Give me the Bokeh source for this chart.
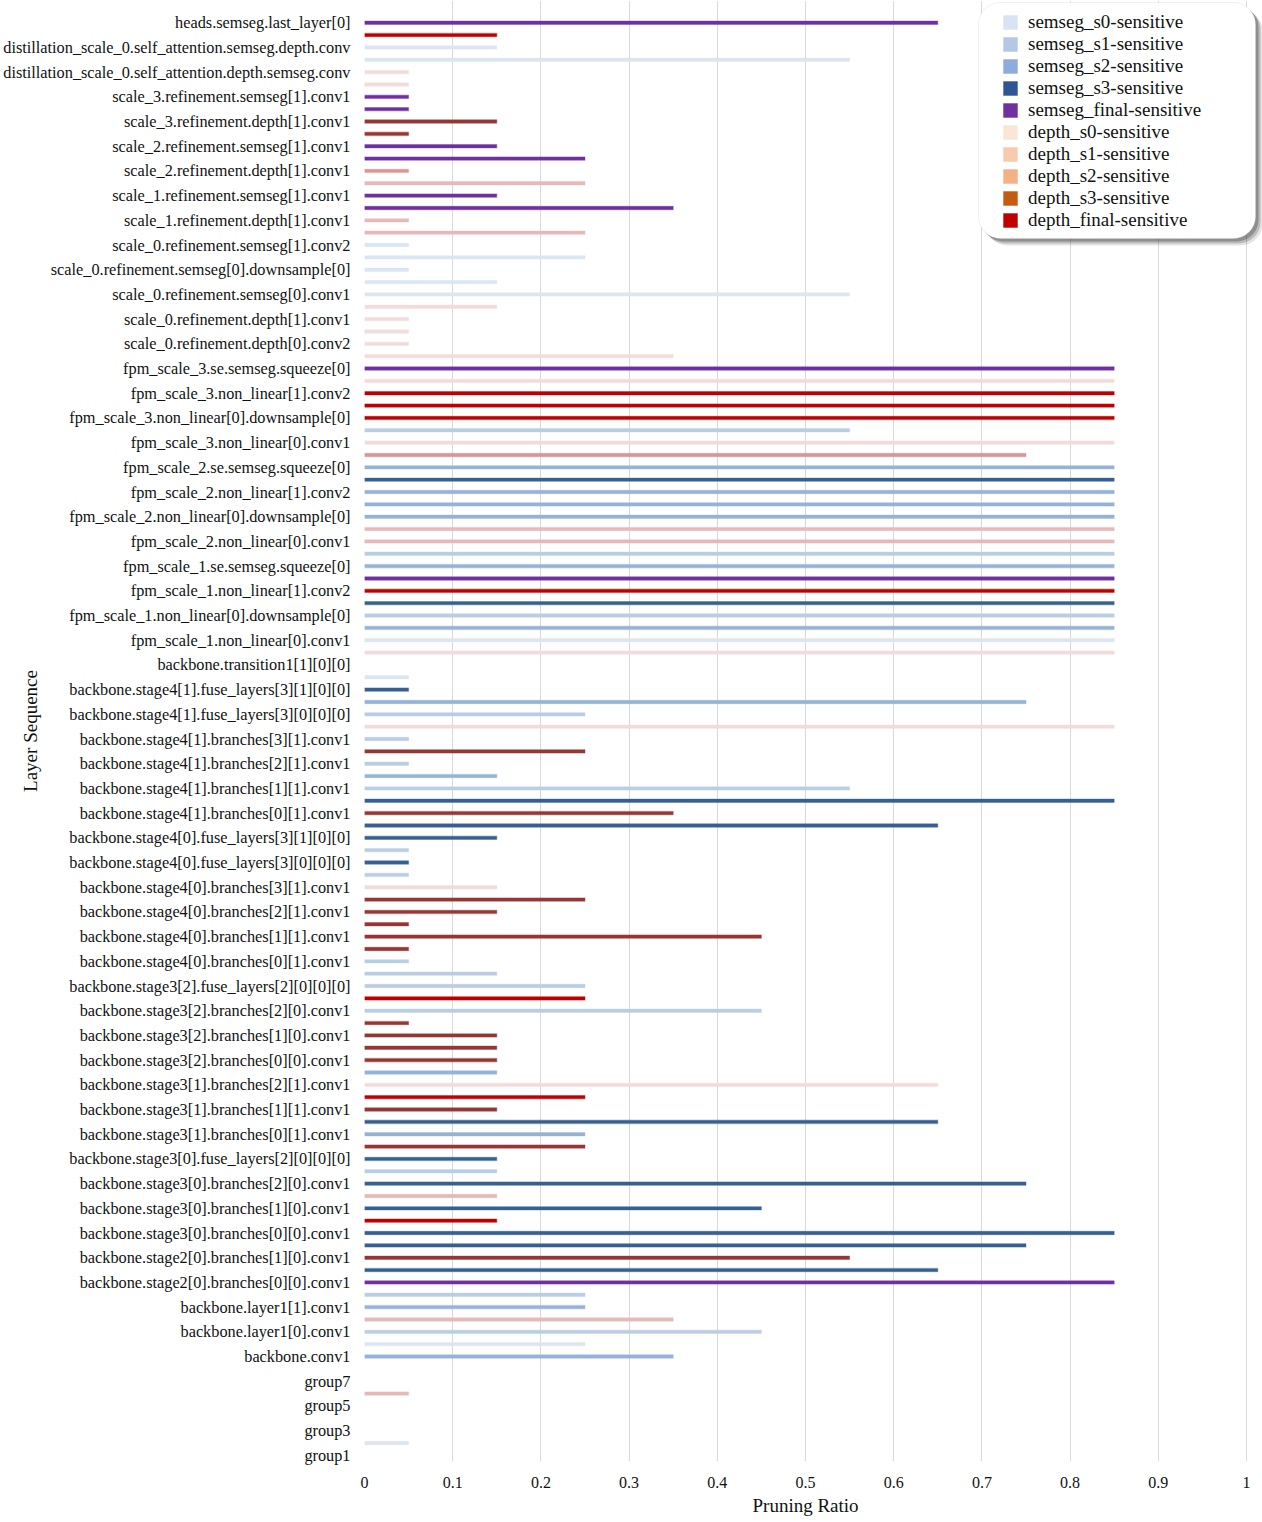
from bokeh.plotting import figure
from bokeh.models import (FixedTicker, CustomJSTickFormatter, Legend, LegendItem,
                          BoxAnnotation, ColumnDataSource, Range1d, Title)
from bokeh.embed import file_html
from bokeh.resources import INLINE

# ---------------- data ----------------
sens_keys = ["s0", "s1", "s2", "s3", "sf", "d0", "d1", "d2", "d3", "df"]
sens_labels = ["semseg_s0-sensitive", "semseg_s1-sensitive", "semseg_s2-sensitive",
               "semseg_s3-sensitive", "semseg_final-sensitive", "depth_s0-sensitive",
               "depth_s1-sensitive", "depth_s2-sensitive", "depth_s3-sensitive",
               "depth_final-sensitive"]
legend_colors = ["#dae3f3", "#b4c7e7", "#8faadc", "#2f5597", "#7030a0",
                 "#fbe5d6", "#f8cbad", "#f4b183", "#c55a11", "#c00000"]
bar_colors = ["#dce6f2", "#b9cde5", "#95b3d7", "#376092", "#7030a0",
              "#f2dcdb", "#e6b9b8", "#d99694", "#953735", "#c00000"]

# visible tick labels (every second row, top to bottom)
tick_labels = [
    "heads.semseg.last_layer[0]",
    "distillation_scale_0.self_attention.semseg.depth.conv",
    "distillation_scale_0.self_attention.depth.semseg.conv",
    "scale_3.refinement.semseg[1].conv1",
    "scale_3.refinement.depth[1].conv1",
    "scale_2.refinement.semseg[1].conv1",
    "scale_2.refinement.depth[1].conv1",
    "scale_1.refinement.semseg[1].conv1",
    "scale_1.refinement.depth[1].conv1",
    "scale_0.refinement.semseg[1].conv2",
    "scale_0.refinement.semseg[0].downsample[0]",
    "scale_0.refinement.semseg[0].conv1",
    "scale_0.refinement.depth[1].conv1",
    "scale_0.refinement.depth[0].conv2",
    "fpm_scale_3.se.semseg.squeeze[0]",
    "fpm_scale_3.non_linear[1].conv2",
    "fpm_scale_3.non_linear[0].downsample[0]",
    "fpm_scale_3.non_linear[0].conv1",
    "fpm_scale_2.se.semseg.squeeze[0]",
    "fpm_scale_2.non_linear[1].conv2",
    "fpm_scale_2.non_linear[0].downsample[0]",
    "fpm_scale_2.non_linear[0].conv1",
    "fpm_scale_1.se.semseg.squeeze[0]",
    "fpm_scale_1.non_linear[1].conv2",
    "fpm_scale_1.non_linear[0].downsample[0]",
    "fpm_scale_1.non_linear[0].conv1",
    "backbone.transition1[1][0][0]",
    "backbone.stage4[1].fuse_layers[3][1][0][0]",
    "backbone.stage4[1].fuse_layers[3][0][0][0]",
    "backbone.stage4[1].branches[3][1].conv1",
    "backbone.stage4[1].branches[2][1].conv1",
    "backbone.stage4[1].branches[1][1].conv1",
    "backbone.stage4[1].branches[0][1].conv1",
    "backbone.stage4[0].fuse_layers[3][1][0][0]",
    "backbone.stage4[0].fuse_layers[3][0][0][0]",
    "backbone.stage4[0].branches[3][1].conv1",
    "backbone.stage4[0].branches[2][1].conv1",
    "backbone.stage4[0].branches[1][1].conv1",
    "backbone.stage4[0].branches[0][1].conv1",
    "backbone.stage3[2].fuse_layers[2][0][0][0]",
    "backbone.stage3[2].branches[2][0].conv1",
    "backbone.stage3[2].branches[1][0].conv1",
    "backbone.stage3[2].branches[0][0].conv1",
    "backbone.stage3[1].branches[2][1].conv1",
    "backbone.stage3[1].branches[1][1].conv1",
    "backbone.stage3[1].branches[0][1].conv1",
    "backbone.stage3[0].fuse_layers[2][0][0][0]",
    "backbone.stage3[0].branches[2][0].conv1",
    "backbone.stage3[0].branches[1][0].conv1",
    "backbone.stage3[0].branches[0][0].conv1",
    "backbone.stage2[0].branches[1][0].conv1",
    "backbone.stage2[0].branches[0][0].conv1",
    "backbone.layer1[1].conv1",
    "backbone.layer1[0].conv1",
    "backbone.conv1",
    "group7",
    "group5",
    "group3",
    "group1",
]

# pruning ratio of every row (top to bottom)
ratios = [
    0.65, 0.15, 0.15, 0.55, 0.05, 0.05, 0.05, 0.05, 0.15, 0.05,
    0.15, 0.25, 0.05, 0.25, 0.15, 0.35, 0.05, 0.25, 0.05, 0.25,
    0.05, 0.15, 0.55, 0.15, 0.05, 0.05, 0.05, 0.35, 0.85, 0.85,
    0.85, 0.85, 0.85, 0.55, 0.85, 0.75, 0.85, 0.85, 0.85, 0.85,
    0.85, 0.85, 0.85, 0.85, 0.85, 0.85, 0.85, 0.85, 0.85, 0.85,
    0.85, 0.85, 0.0, 0.05, 0.05, 0.75, 0.25, 0.85, 0.05, 0.25,
    0.05, 0.15, 0.55, 0.85, 0.35, 0.65, 0.15, 0.05, 0.05, 0.05,
    0.15, 0.25, 0.15, 0.05, 0.45, 0.05, 0.05, 0.15, 0.25, 0.25,
    0.45, 0.05, 0.15, 0.15, 0.15, 0.15, 0.65, 0.25, 0.15, 0.65,
    0.25, 0.25, 0.15, 0.15, 0.75, 0.15, 0.45, 0.15, 0.85, 0.75,
    0.55, 0.65, 0.85, 0.25, 0.25, 0.35, 0.45, 0.25, 0.35, 0.0,
    0.0, 0.05, 0.0, 0.0, 0.0, 0.05, 0.0,
]
# sensitivity type of every row (top to bottom), "" = no bar
sensitivity = [
    "sf", "df", "s0", "s0", "d0", "d0", "sf", "sf", "d3", "d3",
    "sf", "sf", "d2", "d1", "sf", "sf", "d1", "d1", "s0", "s0",
    "s0", "s0", "s0", "d0", "d0", "d0", "d0", "d0", "sf", "d0",
    "df", "df", "df", "s1", "d0", "d2", "s2", "s3", "s2", "s2",
    "s2", "d1", "d1", "s1", "s2", "sf", "df", "s3", "s1", "s2",
    "s0", "d0", "", "s0", "s3", "s2", "s1", "d0", "s1", "d3",
    "s1", "s2", "s1", "s3", "d3", "s3", "s3", "s1", "s3", "s1",
    "d0", "d3", "d3", "d3", "d3", "d3", "s1", "s1", "s1", "df",
    "s1", "d3", "d3", "d3", "d3", "s2", "d0", "df", "d3", "s3",
    "s2", "d3", "s3", "s1", "s3", "d1", "s3", "df", "s3", "s3",
    "d3", "s3", "sf", "s1", "s2", "d1", "s1", "s0", "s2", "",
    "", "d1", "", "", "", "s0", "",
]

x_ticks = [0, 0.1, 0.2, 0.3, 0.4, 0.5, 0.6, 0.7, 0.8, 0.9, 1.0]

# ---------------- layout constants (pixels) ----------------
W, H = 1262, 1522
FR_LEFT = 364
X_UNIT = 882                      # pixels per 1.0 of pruning ratio
FR_BOTTOM = 1461
PITCH = 12.35                     # pixels per row
n = len(ratios)
top = n - 1
Y_END = -0.5 + FR_BOTTOM / PITCH  # frame starts at the very top
X_END = (W - FR_LEFT) / X_UNIT    # frame runs to the right edge

def px_x(v):
    return (v - FR_LEFT) / X_UNIT

def px_y(v):
    return Y_END - v / PITCH

# ---------------- build ----------------
ys, rights, cols = [], [], []
for t, (r, s) in enumerate(zip(ratios, sensitivity)):
    if s == "" or r <= 0:
        continue
    ys.append(top - t)
    rights.append(r)
    cols.append(bar_colors[sens_keys.index(s)])
src = ColumnDataSource(dict(y=ys, right=rights, color=cols))

FONT = "Liberation Serif"
TXT = "#111111"

p = figure(width=W, height=H, output_backend="svg", toolbar_location=None,
           x_range=Range1d(0, X_END), y_range=Range1d(-0.5, Y_END),
           min_border_left=FR_LEFT, min_border_right=0,
           min_border_top=0, min_border_bottom=H - FR_BOTTOM)
p.outline_line_color = None
p.background_fill_color = "white"

p.hbar(y="y", left=0, right="right", height=0.27, fill_color="color",
       line_color="color", line_alpha=0.35, line_width=1.2, source=src)

# x axis
p.xaxis.ticker = FixedTicker(ticks=x_ticks)
p.xaxis.formatter = CustomJSTickFormatter(
    code="return tick.toFixed(1).replace(/\\.0$/, '');")
p.xaxis.axis_line_color = None
p.xaxis.major_tick_line_color = None
p.xaxis.minor_tick_line_color = None
p.xaxis.major_label_standoff = 9
p.xaxis.major_label_text_font = FONT
p.xaxis.major_label_text_font_size = "16px"
p.xaxis.major_label_text_color = TXT

# x axis title, centred under the 0..1 span (the frame runs a bit past 1)
x_title = Title(text="Pruning Ratio", align="left", offset=752 - FR_LEFT,
                standoff=5, text_font=FONT, text_font_size="19px",
                text_font_style="normal", text_color=TXT)
p.add_layout(x_title, "below")

# y axis
y_tick_pos = [top - 2 * k for k in range(len(tick_labels))]
p.yaxis.ticker = FixedTicker(ticks=y_tick_pos)
p.yaxis.formatter = CustomJSTickFormatter(
    args=dict(labels=tick_labels, top=top),
    code="const i = Math.round((top - tick) / 2); return (i >= 0 && i < labels.length) ? labels[i] : '';")
p.yaxis.axis_line_color = None
p.yaxis.major_tick_line_color = None
p.yaxis.minor_tick_line_color = None
p.yaxis.major_label_standoff = 8
p.yaxis.major_label_text_font = FONT
p.yaxis.major_label_text_font_size = "16.3px"
p.yaxis.major_label_text_color = TXT
p.yaxis.axis_label = "Layer Sequence"
p.yaxis.axis_label_standoff = -41      # pulls the title in beside the short labels
p.yaxis.axis_label_text_font = FONT
p.yaxis.axis_label_text_font_size = "19px"
p.yaxis.axis_label_text_font_style = "normal"
p.yaxis.axis_label_text_color = TXT

p.xgrid.ticker = FixedTicker(ticks=x_ticks)
p.xgrid.grid_line_color = "#d9d9d9"
p.xgrid.grid_line_width = 1
p.ygrid.grid_line_color = None

# legend geometry (pixels)
LG_PAD = 9
ITEM_H = 22
LG_ITEMS_LEFT, LG_ITEMS_TOP = 992, 2
LG_ITEMS_BOTTOM = LG_ITEMS_TOP + 2 * LG_PAD + 10 * ITEM_H
BOX_LEFT, BOX_TOP, BOX_RIGHT, BOX_BOTTOM = 978, 2, 1255, 238

# legend shadow
for off, alpha in [(7, 0.14), (5, 0.25), (3, 0.35)]:
    b = BoxAnnotation(left=px_x(BOX_LEFT + off), right=px_x(BOX_RIGHT + off),
                      top=px_y(BOX_TOP + off), bottom=px_y(BOX_BOTTOM + off),
                      fill_color="#404040", fill_alpha=alpha, line_color=None)
    try:
        b.border_radius = 22
    except Exception:
        pass
    p.add_layout(b)

# legend panel
panel = BoxAnnotation(left=px_x(BOX_LEFT), right=px_x(BOX_RIGHT),
                      top=px_y(BOX_TOP), bottom=px_y(BOX_BOTTOM),
                      fill_color="white", fill_alpha=1.0,
                      line_color="#cfcfcf", line_width=1)
try:
    panel.border_radius = 22
except Exception:
    pass
p.add_layout(panel)

# legend (proxy swatches in the legend palette, zero-width so invisible in plot)
items = []
for lab, col in zip(sens_labels, legend_colors):
    r = p.hbar(y=[top], left=[0], right=[0], height=0.3, fill_color=col,
               line_color=None)
    items.append(LegendItem(label=lab, renderers=[r]))

legend = Legend(items=items,
                location=(LG_ITEMS_LEFT - FR_LEFT, FR_BOTTOM - LG_ITEMS_BOTTOM),
                margin=0, padding=LG_PAD,
                glyph_width=18, glyph_height=18, label_standoff=9,
                label_height=ITEM_H, spacing=0,
                label_text_font=FONT, label_text_font_size="19px",
                label_text_color=TXT,
                border_line_color="white", border_line_alpha=0.0,
                background_fill_color="white", background_fill_alpha=0.0)
p.add_layout(legend)

open("out.html", "w").write(file_html(p, INLINE))
